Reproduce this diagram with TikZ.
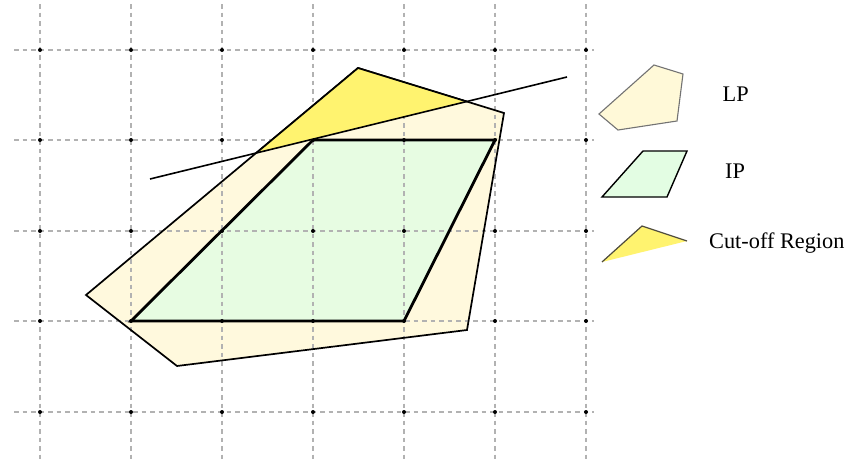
\documentclass[tikz,border=0pt]{standalone}
\usepackage{fontspec}
\setmainfont{Liberation Serif}
\begin{document}
\begin{tikzpicture}[x=1pt,y=-1pt,
  gridline/.style={draw=black!30,line width=1.2pt,dash pattern=on 4.5pt off 4pt},
  griddot/.style={fill=black},
  lpfill/.style={fill=lpcol,fill opacity=0.85},
  lpedge/.style={draw=black,line width=1.7pt,line join=miter},
  ipfill/.style={fill=ipcol,fill opacity=0.85},
  ipedge/.style={draw=black,line width=2.8pt,line join=miter},
  cutfill/.style={fill=cutcol},
  cutline/.style={draw=black,line width=1.6pt},
  legtext/.style={inner sep=0pt,anchor=base west,font=\fontsize{22.3}{26}\selectfont}
]
\definecolor{lpcol}{HTML}{FFF9D8}
\definecolor{ipcol}{HTML}{E3FDE3}
\definecolor{cutcol}{HTML}{FFF36F}
\useasboundingbox (0,0) rectangle (863,471);
\fill[white] (0,0) rectangle (863,471);

% LP polygon vertices
\coordinate (l1) at (358,68);
\coordinate (l2) at (504,113);
\coordinate (l3) at (467,330);
\coordinate (l4) at (177,366);
\coordinate (l5) at (86,295);
% IP polygon vertices
\coordinate (i1) at (313,140);
\coordinate (i2) at (495,140);
\coordinate (i3) at (404,321);
\coordinate (i4) at (131,321);
% cut line ends
\coordinate (c1) at (150,179);
\coordinate (c2) at (567,77);
\coordinate (cl) at (intersection of c1--c2 and l5--l1);
\coordinate (cr) at (intersection of c1--c2 and l1--l2);

% fills
\path[lpfill] (l1) -- (l2) -- (l3) -- (l4) -- (l5) -- cycle;
\path[ipfill] (i1) -- (i2) -- (i3) -- (i4) -- cycle;

% grid
\foreach \gx in {40,131,222,313,404,495,586}
  \draw[gridline] (\gx,4) -- (\gx,462);
\foreach \gy in {50,140,231,321,412}
  \draw[gridline] (14,\gy) -- (594,\gy);
\foreach \gx in {40,131,222,313,404,495,586}
  \foreach \gy in {50,140,231,321,412}
    \fill[griddot] (\gx,\gy) circle (2pt);

% outlines
\draw[lpedge] (l1) -- (l2) -- (l3) -- (l4) -- (l5) -- cycle;
\draw[ipedge] (i1) -- (i2) -- (i3) -- (i4) -- cycle;

% cut-off region
\path[cutfill] (l1) -- (cr) -- (cl) -- cycle;
\draw[lpedge] (cl) -- (l1) -- (cr);
\draw[cutline] (c1) -- (c2);

% legend
\path[fill=lpcol,draw=black!55,line width=1.1pt] (654,65) -- (683,74) -- (677,121) -- (618,130) -- (599,114) -- cycle;
\path[fill=ipcol,draw=black,line width=1.4pt] (643,151) -- (687,151) -- (667,197) -- (602,197) -- cycle;
\coordinate (k1) at (602,262);
\coordinate (k2) at (642,226);
\coordinate (k3) at (687,241);
\path[cutfill] (k1) -- (k2) -- (k3) -- cycle;
\draw[draw=black!80!yellow,line width=1.2pt] (k1) -- (k2) -- (k3);

\node[legtext] (tlp) at (722.5,101.7) {LP};
\node[legtext] (tip) at (725,178.3) {IP};
\node[legtext] (tcut) at (709,248.3) {Cut-off Region};
\end{tikzpicture}
\end{document}
